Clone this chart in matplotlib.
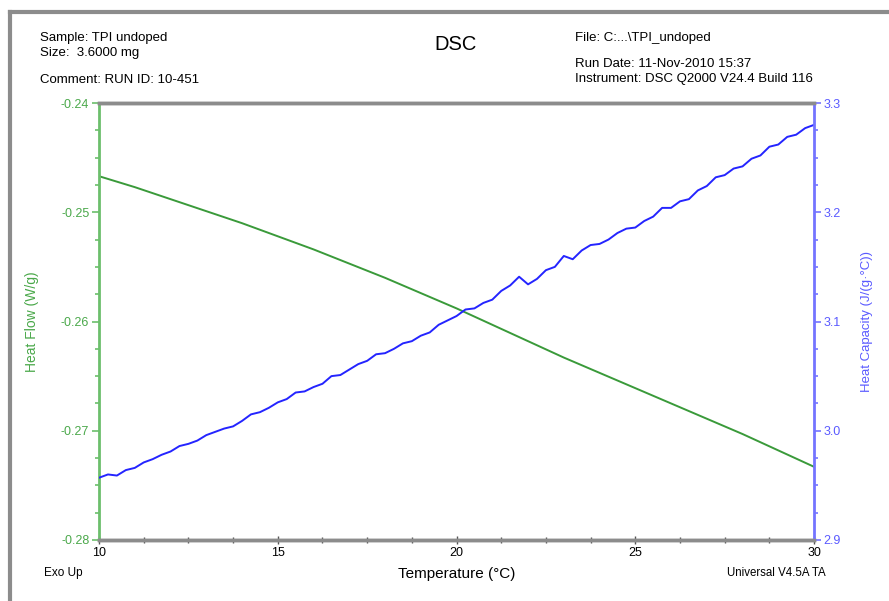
import matplotlib
matplotlib.use("Agg")
import matplotlib.pyplot as plt
from matplotlib.ticker import MultipleLocator, FormatStrFormatter
from matplotlib.lines import Line2D

plt.rcParams['font.family'] = ['Liberation Sans', 'DejaVu Sans']

# heat flow (W/g), read at 1 degC steps
temp_hf = [10, 11, 12, 13, 14, 15, 16, 17, 18, 19, 20,
           21, 22, 23, 24, 25, 26, 27, 28, 29, 30]
heat_flow = [-0.2467, -0.2477, -0.2488, -0.2499, -0.2510, -0.2522, -0.2534,
             -0.2547, -0.2560, -0.2574, -0.2588, -0.2603, -0.2618, -0.2633,
             -0.2647, -0.2661, -0.2675, -0.2689, -0.2703, -0.2718, -0.2733]

# heat capacity (J/(g.degC)), read at 0.25 degC steps
temp_cp = [10.0 + 0.25 * i for i in range(81)]
heat_cap = [2.957, 2.960, 2.959, 2.964, 2.966, 2.971, 2.974, 2.978, 2.981, 2.986,
            2.988, 2.991, 2.996, 2.999, 3.002, 3.004, 3.009, 3.015, 3.017, 3.021,
            3.026, 3.029, 3.035, 3.036, 3.040, 3.043, 3.050, 3.051, 3.056, 3.061,
            3.064, 3.070, 3.071, 3.075, 3.080, 3.082, 3.087, 3.090, 3.097, 3.101,
            3.105, 3.111, 3.112, 3.117, 3.120, 3.128, 3.133, 3.141, 3.134, 3.139,
            3.147, 3.150, 3.160, 3.157, 3.165, 3.170, 3.171, 3.175, 3.181, 3.185,
            3.186, 3.192, 3.196, 3.204, 3.204, 3.210, 3.212, 3.220, 3.224, 3.232,
            3.234, 3.240, 3.242, 3.249, 3.252, 3.260, 3.262, 3.269, 3.271, 3.277,
            3.280]

green_line = '#3a9a3a'
green_axis = '#6cbf6c'
blue_line = '#2424ff'
blue_axis = '#7474ff'

fig = plt.figure(figsize=(8.89, 6.01), dpi=100)
ax = fig.add_axes([0.1114, 0.1015, 0.8043, 0.7271])
ax2 = ax.twinx()

ax.plot(temp_hf, heat_flow, color=green_line, lw=1.4)
ax2.plot(temp_cp, heat_cap, color=blue_line, lw=1.4)

ax.set_xlim(10, 30)
ax.set_ylim(-0.28, -0.24)
ax2.set_ylim(2.9, 3.3)

ax.xaxis.set_major_locator(MultipleLocator(5))
ax.xaxis.set_minor_locator(MultipleLocator(1.25))
ax.yaxis.set_major_locator(MultipleLocator(0.01))
ax.yaxis.set_minor_locator(MultipleLocator(0.0025))
ax.yaxis.set_major_formatter(FormatStrFormatter('%g'))
ax2.yaxis.set_major_locator(MultipleLocator(0.1))
ax2.yaxis.set_minor_locator(MultipleLocator(0.025))
ax2.yaxis.set_major_formatter(FormatStrFormatter('%.1f'))

for a in (ax, ax2):
    a.spines['top'].set_color('#8c8c8c')
    a.spines['top'].set_linewidth(2.5)
    a.spines['bottom'].set_color('#8c8c8c')
    a.spines['bottom'].set_linewidth(2.5)
ax.spines['left'].set_color(green_axis)
ax.spines['left'].set_linewidth(2)
ax2.spines['right'].set_color(blue_axis)
ax2.spines['right'].set_linewidth(2)
ax2.spines['left'].set_visible(False)
ax.spines['right'].set_visible(False)

ax.tick_params(axis='x', which='both', direction='inout', color='#555555',
               labelsize=9, pad=2, width=1)
ax.tick_params(axis='x', which='major', length=6)
ax.tick_params(axis='x', which='minor', length=4)
ax.tick_params(axis='y', which='both', color=green_axis, labelcolor='#4aa84a',
               labelsize=9, width=1.2, pad=2)
ax.tick_params(axis='y', which='major', length=5)
ax.tick_params(axis='y', which='minor', length=3)
ax2.tick_params(axis='y', which='both', color=blue_axis, labelcolor='#5a5aff',
                labelsize=9, width=1.2, pad=2)
ax2.tick_params(axis='y', which='major', length=5)
ax2.tick_params(axis='y', which='minor', length=3)

ax.set_ylabel('Heat Flow (W/g)', color='#4aa84a', fontsize=10, labelpad=16)
ax2.set_ylabel('Heat Capacity (J/(g·°C))', color='#5a5aff', fontsize=9.5, labelpad=14)
ax.set_xlabel('Temperature (°C)', fontsize=11, labelpad=6)

# outer frame
fig.add_artist(Line2D([0.011, 0.011], [0, 0.98], color='#8c8c8c', lw=3))
fig.add_artist(Line2D([0.011, 1.0], [0.98, 0.98], color='#8c8c8c', lw=3))

fig.text(0.045, 0.932, 'Sample: TPI undoped', fontsize=9.5)
fig.text(0.045, 0.907, 'Size:  3.6000 mg', fontsize=9.5)
fig.text(0.045, 0.862, 'Comment: RUN ID: 10-451', fontsize=9.5)
fig.text(0.512, 0.917, 'DSC', fontsize=14.5, ha='center')
fig.text(0.647, 0.932, 'File: C:...\\TPI_undoped', fontsize=9.5)
fig.text(0.647, 0.888, 'Run Date: 11-Nov-2010 15:37', fontsize=9.5)
fig.text(0.647, 0.864, 'Instrument: DSC Q2000 V24.4 Build 116', fontsize=9.5)
fig.text(0.05, 0.042, 'Exo Up', fontsize=8.5)
fig.text(0.929, 0.042, 'Universal V4.5A TA', fontsize=8.3, ha='right')

fig.savefig('out.png', dpi=100)
